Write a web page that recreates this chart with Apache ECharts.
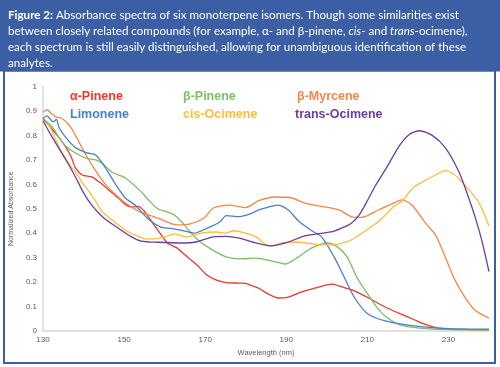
<!DOCTYPE html>
<html><head><meta charset="utf-8">
<script src="https://cdn.jsdelivr.net/npm/echarts@6/dist/echarts.min.js"></script>
<style>html,body{margin:0;padding:0;background:#fff}#c{width:500px;height:367px}</style>
</head><body><div id="c"></div>
<script>
// Wavelength ticks
const xTicks = {min: 130, max: 240, interval: 20};
const seriesNames = ['α-Pinene', 'β-Pinene', 'β-Myrcene', 'Limonene', 'cis-Ocimene', 'trans-Ocimene'];
const seriesColors = ['#e8392e', '#7cbf62', '#f3874b', '#4c7fcb', '#fbbe3c', '#6a3e9e'];

const alphaPinene = [[130,0.87],[132.5,0.82],[134,0.79],[135.7,0.75],[137,0.71],[138,0.667],[139.7,0.638],[142,0.63],[143.8,0.61],[146.2,0.577],[148.6,0.544],[150.5,0.515],[152,0.507],[153.5,0.51],[155,0.49],[156,0.467],[158.3,0.413],[160.7,0.36],[163,0.34],[165.6,0.303],[168,0.27],[170.4,0.229],[172.8,0.208],[175.2,0.198],[178.4,0.196],[180,0.195],[181.7,0.184],[183.2,0.175],[185.6,0.151],[188,0.135],[190.5,0.139],[193.8,0.16],[197,0.175],[199.5,0.187],[201.4,0.192],[203.8,0.18],[206.2,0.168],[210.3,0.135],[214.4,0.098],[217.6,0.074],[221.7,0.045],[223,0.035],[226.8,0.014],[230,0.008],[235,0.006],[240,0.005]];
const betaPinene = [[130,0.87],[132.5,0.83],[134,0.79],[135.7,0.755],[138,0.728],[140.6,0.707],[143,0.70],[144.5,0.687],[147,0.65],[150.3,0.626],[154.2,0.57],[156,0.536],[158.3,0.50],[160.7,0.487],[162.4,0.474],[164,0.45],[166.3,0.405],[168.8,0.364],[172,0.33],[175.2,0.303],[178.4,0.295],[182.5,0.298],[186.6,0.286],[189.8,0.274],[193,0.303],[196.3,0.34],[200.2,0.36],[202.6,0.344],[205,0.303],[207.4,0.22],[209.9,0.155],[212.3,0.098],[214.7,0.057],[218,0.025],[223,0.012],[230,0.006],[240,0.005]];
const betaMyrcene = [[130,0.895],[131,0.905],[132,0.89],[133.3,0.875],[134.6,0.87],[136,0.85],[137,0.83],[138,0.80],[140.6,0.72],[143,0.655],[145.4,0.60],[148,0.556],[150.3,0.523],[152,0.505],[154.2,0.485],[158.3,0.462],[163,0.434],[166.3,0.438],[169.7,0.462],[172,0.503],[176,0.515],[180,0.505],[183.2,0.533],[187.3,0.548],[191.4,0.544],[194.6,0.523],[198.5,0.51],[203,0.495],[206.2,0.467],[208.6,0.465],[212.7,0.495],[216,0.52],[218.5,0.536],[221,0.515],[224.4,0.44],[226.8,0.393],[229.2,0.303],[231.6,0.208],[234,0.14],[236.5,0.086],[240,0.053]];
const limonene = [[130,0.87],[131,0.88],[132.5,0.855],[133.3,0.865],[134,0.83],[135.7,0.79],[138,0.75],[140.6,0.73],[143,0.72],[145.4,0.667],[148,0.597],[150.3,0.544],[152.7,0.515],[156,0.457],[159,0.425],[161.5,0.42],[164,0.413],[167.2,0.40],[170.4,0.42],[173.6,0.446],[175.2,0.472],[178.4,0.468],[181,0.478],[183.2,0.495],[185.6,0.507],[187.8,0.515],[190.5,0.495],[193,0.45],[196.3,0.41],[198.7,0.385],[201.9,0.30],[204.3,0.22],[206.7,0.14],[209.9,0.073],[214.7,0.04],[222,0.02],[230,0.01],[240,0.008]];
const cisOcimene = [[130,0.86],[131.5,0.84],[132.4,0.81],[134,0.75],[135,0.72],[137,0.67],[138,0.65],[140,0.60],[141.4,0.57],[143,0.53],[144.5,0.49],[146,0.467],[148.6,0.434],[150.5,0.41],[152.7,0.393],[154.5,0.38],[156,0.376],[158,0.378],[160,0.385],[162.4,0.397],[164,0.39],[165.6,0.385],[168.8,0.40],[172.8,0.405],[175,0.40],[177,0.41],[180,0.40],[182.5,0.385],[184.5,0.36],[185.7,0.348],[187,0.35],[189,0.36],[192,0.364],[195,0.36],[198.6,0.352],[201.9,0.352],[204,0.36],[206,0.372],[209.1,0.405],[213.2,0.454],[216.4,0.507],[218.8,0.536],[221.2,0.585],[223.6,0.61],[226.8,0.638],[229.2,0.656],[231.6,0.638],[234,0.597],[237.4,0.528],[240,0.43]];
const transOcimene = [[130,0.86],[132,0.80],[134,0.745],[136,0.69],[138,0.63],[140,0.565],[142,0.515],[145,0.462],[148.6,0.42],[151.8,0.385],[154.2,0.368],[158.3,0.363],[164.8,0.36],[168,0.365],[172,0.385],[175,0.387],[178.4,0.38],[182.5,0.36],[186,0.348],[189.8,0.36],[194.6,0.389],[201,0.405],[203.5,0.42],[206,0.44],[208,0.475],[209.9,0.53],[212,0.595],[214.7,0.667],[218,0.76],[220.5,0.806],[222.9,0.819],[226,0.80],[229.2,0.75],[232.6,0.65],[235,0.544],[236.5,0.47],[238.2,0.372],[240,0.243]];

const seriesData = [alphaPinene, betaPinene, betaMyrcene, limonene, cisOcimene, transOcimene];
const legendPos = [[70,97],[183,97],[297,97],[70,115],[183,115],[295,115]];

const headerText = '{b|Figure 2:} Absorbance spectra of six monoterpene isomers. Though some similarities exist\n' +
  'between closely related compounds (for example, α- and β-pinene, {i|cis}- and {i|trans}-ocimene),\n' +
  'each spectrum is still easily distinguished, allowing for unambiguous identification of these\n' +
  'analytes.';

const hf = 11.6, hl = 16;
const chart = echarts.init(document.getElementById('c'));
const graphics = [
  {type:'rect', shape:{x:0,y:0,width:500,height:71.5}, style:{fill:'#3c5ea4'}, silent:true},
  {type:'rect', shape:{x:4,y:70.5,width:491,height:292.5}, style:{fill:'none', stroke:'#3c5ea4', lineWidth:2}, silent:true},
  {type:'text', x:8, y:7.5, style:{text:headerText, fill:'#fff', fontSize:hf, fontFamily:'Lato', lineHeight:hl, verticalAlign:'top',
    rich:{b:{fontWeight:'bold', fill:'#fff', fontSize:hf, fontFamily:'Lato', lineHeight:hl}, i:{fontStyle:'italic', fill:'#fff', fontSize:hf, fontFamily:'Lato', lineHeight:hl}}}}
];
seriesNames.forEach((n,i)=>{
  graphics.push({type:'text', x:legendPos[i][0], y:legendPos[i][1], style:{text:n, fill:seriesColors[i], fontSize:12.5, fontWeight:'bold', fontFamily:'Liberation Sans', verticalAlign:'middle'}});
});

chart.setOption({
  animation:false,
  backgroundColor:'#fff',
  grid:{left:33, right:11, top:86.5, bottom:36},
  xAxis:{type:'value', min:xTicks.min, max:xTicks.max, interval:xTicks.interval,
    name:'Wavelength (nm)', nameLocation:'middle', nameGap:15, nameTextStyle:{fontSize:7.5, color:'#595959', fontFamily:'Liberation Sans'},
    axisLine:{show:true, lineStyle:{color:'#d9d9d9', width:1.5}}, axisTick:{show:false}, splitLine:{show:false},
    axisLabel:{fontSize:8, color:'#595959', margin:5, showMaxLabel:false, fontFamily:'Liberation Sans'}},
  yAxis:{type:'value', min:0, max:1, interval:0.1,
    name:'Normalized Absorbance', nameLocation:'middle', nameGap:19, nameTextStyle:{fontSize:7, color:'#595959', fontFamily:'Liberation Sans'},
    axisLine:{show:true, lineStyle:{color:'#d9d9d9', width:1.5}}, axisTick:{show:false}, splitLine:{show:false},
    axisLabel:{fontSize:8, color:'#595959', margin:6, fontFamily:'Liberation Sans'}},
  series: seriesNames.map((n,i)=>({type:'line', name:n, data:seriesData[i], showSymbol:false, smooth:0.25,
    lineStyle:{color:seriesColors[i], width:1.3}, itemStyle:{color:seriesColors[i]}})),
  graphic: graphics
});
</script></body></html>
